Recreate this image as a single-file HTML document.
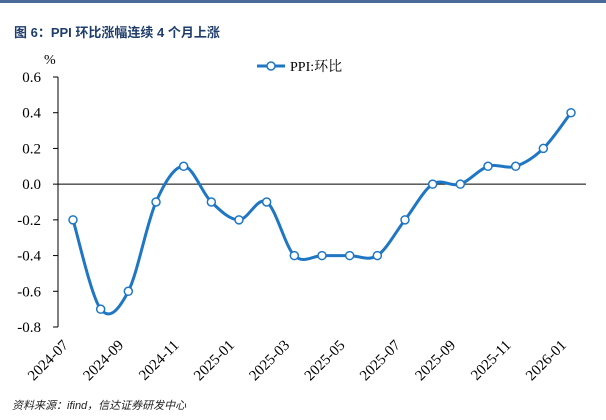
<!DOCTYPE html>
<html><head><meta charset="utf-8"><style>
body{margin:0;background:#fff;width:606px;height:415px;overflow:hidden;font-family:"Liberation Sans","Noto Sans CJK SC",sans-serif;}
</style></head><body>
<svg width="606" height="415" xmlns="http://www.w3.org/2000/svg">
<rect x="0" y="0" width="606" height="3" fill="#4a6a9a"/>
<text x="14" y="37" font-size="13" font-weight="bold" fill="#1f3d6b" font-family="Liberation Sans, Noto Sans CJK SC, sans-serif">图 6：PPI 环比涨幅连续 4 个月上涨</text>
<text x="44" y="64" font-size="14" font-family="Liberation Serif, serif">%</text>
<g id="legend">
<line x1="257" y1="66" x2="285" y2="66" stroke="#1f77c4" stroke-width="3"/>
<circle cx="271" cy="66" r="4" fill="#fff" stroke="#1f77c4" stroke-width="1.5"/>
<text x="290" y="71" font-size="14" font-family="Liberation Serif, Noto Serif CJK SC, serif">PPI:环比</text>
</g>
<g id="axes"></g>
<g id="series"></g>
<text x="12" y="409" font-size="11" font-style="italic" fill="#222" font-family="Liberation Sans, Noto Sans CJK SC, sans-serif">资料来源：ifind，信达证券研发中心</text>
</svg>
<script>
const categories=["2024-07","2024-08","2024-09","2024-10","2024-11","2024-12","2025-01","2025-02","2025-03","2025-04","2025-05","2025-06","2025-07","2025-08","2025-09","2025-10","2025-11","2025-12","2026-01"];
const values=[-0.2,-0.7,-0.6,-0.1,0.1,-0.1,-0.2,-0.1,-0.4,-0.4,-0.4,-0.4,-0.2,0.0,0.0,0.1,0.1,0.2,0.4];
const yTicks=[0.6,0.4,0.2,0.0,-0.2,-0.4,-0.6,-0.8];
const yTickLabels=["0.6","0.4","0.2","0.0","-0.2","-0.4","-0.6","-0.8"];
const NS="http://www.w3.org/2000/svg";
const x0=73,x1=571,yTop=77,yBot=327,yMax=0.6,yMin=-0.8;
function xs(i){return x0+(x1-x0)*i/(categories.length-1);}
function ys(v){return yTop+(yMax-v)/(yMax-yMin)*(yBot-yTop);}
function mk(tag,attrs,parent){const e=document.createElementNS(NS,tag);for(const k in attrs)e.setAttribute(k,attrs[k]);parent.appendChild(e);return e;}
const ax=document.getElementById('axes');
let yl=mk('line',{x1:58,y1:ys(yMax),x2:58,y2:ys(yMin),stroke:'#000','stroke-width':1},ax);


yTicks.forEach((v,i)=>{
 let t=mk('line',{x1:53,y1:ys(v),x2:58,y2:ys(v),stroke:'#000'},ax);
 
 
 let l=mk('text',{x:41,y:ys(v)+5,'text-anchor':'end','font-size':15,'font-family':'Liberation Serif, serif'},ax);
 l.textContent=yTickLabels[i];
 
 
});
let xl=mk('line',{x1:58,y1:ys(0),x2:586,y2:ys(0),stroke:'#000','stroke-width':1},ax);


categories.forEach((c,i)=>{
 if(i%2)return;
 const x=xs(i)-4,y=346;
 let l=mk('text',{x:x,y:y,'text-anchor':'end','font-size':15,'font-family':'Liberation Serif, serif',transform:`rotate(-45 ${x} ${y})`},ax);
 l.textContent=c;
 
 
});
const s=document.getElementById('series');
const pts=values.map((v,i)=>[xs(i),ys(v)]);
let d=`M${pts[0][0]},${pts[0][1]}`;
for(let i=0;i<pts.length-1;i++){
 const p0=pts[Math.max(0,i-1)],p1=pts[i],p2=pts[i+1],p3=pts[Math.min(pts.length-1,i+2)];
 const t=1/6;
 d+=` C${p1[0]+(p2[0]-p0[0])*t},${p1[1]+(p2[1]-p0[1])*t} ${p2[0]-(p3[0]-p1[0])*t},${p2[1]-(p3[1]-p1[1])*t} ${p2[0]},${p2[1]}`;
}
let path=mk('path',{d:d,fill:'none',stroke:'#1f77c4','stroke-width':3},s);


pts.forEach(p=>{
 let c=mk('circle',{cx:p[0],cy:p[1],r:4,fill:'#fff',stroke:'#1f77c4','stroke-width':1.5},s);
 
 
});
</script>
</body></html>
